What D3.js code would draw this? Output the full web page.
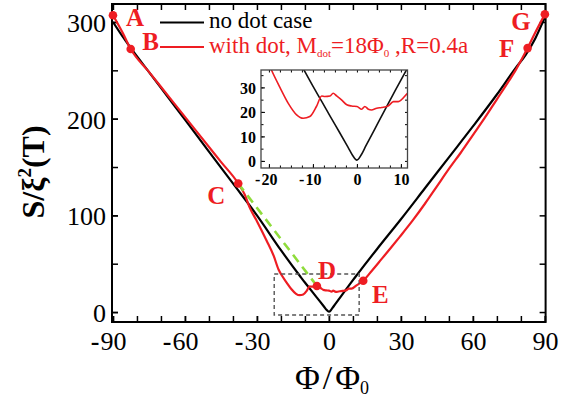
<!DOCTYPE html>
<html>
<head>
<meta charset="utf-8">
<style>
html, body { margin: 0; padding: 0; background: #fff; }
</style>
</head>
<body>
<script src="https://cdn.jsdelivr.net/npm/d3@7/dist/d3.min.js"></script>
<script>
// ---- data ----
var xTicks = [-90, -60, -30, 0, 30, 60, 90]
var xMinor = d3.range(-90, 91, 10)
var yTicks = [0, 100, 200, 300]
var yMinor = [0, 50, 100, 150, 200, 250, 300]
var insetXTicks = [-20, -10, 0, 10]
var insetYTicks = [0, 10, 20, 30]

var blackX = [-90, -86, -82, -78, -70, -60, -50, -40, -30, -20, -12, -10, -8, -6, -4, -2, -1, 0, 1, 2, 4, 6, 8, 10, 12, 20, 30, 40, 50, 60, 70, 78, 82, 86, 90]
var blackY = [300, 285, 271, 258, 232, 199, 166, 133, 100, 64, 37, 30.5, 24.3, 18, 11.8, 5.5, 2.3, 0.3, 2.5, 6, 12.8, 19.6, 26.3, 33, 39.5, 65, 96, 128, 160, 192, 225, 253, 266, 283, 305]

var redX = [-90, -86, -82.6, -75, -65, -55, -45, -37.8, -35, -33, -30, -26, -23, -21, -19.4, -17.5, -15.6, -13.7, -12.2, -10.7, -9.2, -8, -7.3, -6.1, -5.4, -4.6, -3.5, -2.3, -1.2, 0, 1.1, 1.8, 2.6, 3.3, 4.5, 5.6, 7.1, 8.3, 9.4, 11.5, 14.3, 18, 22, 26, 29.6, 35, 40, 45, 50, 55, 60, 65, 70, 75, 78, 82.8, 86, 90]
var redY = [307, 289, 272, 248.4, 217.4, 186.3, 155.3, 133, 121, 108, 94, 74, 58, 44, 37, 30, 23.5, 18.8, 17.4, 18.1, 22.2, 26.5, 26.3, 26.5, 27.6, 26.5, 24.9, 22.9, 22.4, 22.2, 21.1, 22.2, 21.1, 20.8, 21.5, 21.8, 22.4, 24.2, 24.2, 27.6, 32.4, 43, 55, 67, 78, 95, 112, 130, 148, 165, 183, 201, 220, 239, 251, 273, 289, 308]

var markNames = ['A', 'B', 'C', 'D', 'E', 'F', 'G']
var markX = [-90, -82.6, -37.8, -5, 14.3, 82.8, 90]
var markY = [307, 272, 133, 27, 32.4, 273, 308]

var zoomBox = [[-22.8, 12.6], [-3.1, 39.3]]
var seriesNames = ['no dot case', 'with dot, M']

// ---- layout ----
var W = 574, H = 398
var red = '#ee1d23'
var svg = d3.select('body').append('svg').attr('width', W).attr('height', H)
    .style('display', 'block')
    .attr('font-family', '"Liberation Serif", "DejaVu Serif", serif')

var x = d3.scaleLinear().domain([-90.4, 90.3]).range([112, 545.6])
var y = d3.scaleLinear().domain([-10.3, 318.6]).range([322, 4])
var xi = d3.scaleLinear().domain([-21.8, 11.5]).range([261, 407.5])
var yi = d3.scaleLinear().domain([-2.9, 37.1]).range([168, 70])

var black = d3.zip(blackX, blackY)
var redPts = d3.zip(redX, redY)

function tidy(g, size, weight, sw) {
    g.attr('font-family', null).attr('font-size', null)
    g.select('.domain').remove()
    g.selectAll('line').attr('stroke', '#000').attr('stroke-width', sw)
    g.selectAll('text').attr('font-size', size).attr('font-weight', weight).attr('fill', '#000')
    // minus sign hangs left of centred digits
    g.selectAll('.tick').each(function (d) {
        var t = d3.select(this).select('text')
        if (d >= 0 || !t.text()) return
        var w = t.node().getComputedTextLength()
        d3.select(this).append('text')
            .attr('x', -w / 2 - 1).attr('y', t.attr('y')).attr('dy', t.attr('dy'))
            .attr('text-anchor', 'end').attr('font-size', size).attr('font-weight', 'bold')
            .attr('fill', '#000').text('-')
    })
    return g
}
function ticksOnly(g, sw) {
    g.attr('font-family', null).attr('font-size', null)
    g.select('.domain').remove()
    g.selectAll('text').remove()
    g.selectAll('line').attr('stroke', '#000').attr('stroke-width', sw)
}
var fmt = function (d) { return Math.abs(d) }

// main axes
svg.append('g').attr('transform', 'translate(0,322)')
    .call(d3.axisBottom(x).tickValues(xTicks).tickSizeInner(-6).tickSizeOuter(0).tickPadding(10).tickFormat(fmt))
    .call(tidy, 26, 'normal', 1.5)
svg.append('g').attr('transform', 'translate(0,322)')
    .call(d3.axisBottom(x).tickValues(xMinor).tickSizeInner(-6).tickSizeOuter(0))
    .call(ticksOnly, 1.5)
svg.append('g').attr('transform', 'translate(0,4)')
    .call(d3.axisTop(x).tickValues(xMinor).tickSizeInner(-6).tickSizeOuter(0))
    .call(ticksOnly, 1.5)
svg.append('g').attr('transform', 'translate(112,0)')
    .call(d3.axisLeft(y).tickValues(yTicks).tickSizeInner(-6).tickSizeOuter(0).tickPadding(6))
    .call(tidy, 26, 'normal', 1.5)
    .selectAll('text').attr('dy', '0.36em')
svg.append('g').attr('transform', 'translate(112,0)')
    .call(d3.axisLeft(y).tickValues(yMinor).tickSizeInner(-6).tickSizeOuter(0))
    .call(ticksOnly, 1.5)
svg.append('g').attr('transform', 'translate(545.6,0)')
    .call(d3.axisRight(y).tickValues(yMinor).tickSizeInner(-6).tickSizeOuter(0))
    .call(ticksOnly, 1.5)

svg.append('rect').attr('x', 112).attr('y', 4).attr('width', 433.6).attr('height', 318)
    .attr('fill', 'none').attr('stroke', '#000').attr('stroke-width', 2)

// axis titles
var xt = svg.append('text').attr('x', 332).attr('y', 389).attr('text-anchor', 'middle').attr('font-size', 34)
xt.append('tspan').text('Φ')
xt.append('tspan').attr('dx', 3).text('/')
xt.append('tspan').attr('dx', 3).text('Φ')
xt.append('tspan').attr('font-size', 18).attr('dy', 5).text('0')

var yt = svg.append('text').attr('transform', 'translate(43.5,172) rotate(-90)')
    .attr('text-anchor', 'middle').attr('font-size', 32).attr('font-weight', 'bold')
yt.append('tspan').text('S/ξ')
yt.append('tspan').attr('font-size', 19).attr('dy', -13).text('2')
yt.append('tspan').attr('dy', 13).text('(T)')

// main curves
var line = d3.line().x(function (d) { return x(d[0]) }).y(function (d) { return y(d[1]) }).curve(d3.curveMonotoneX)
svg.append('path').datum(black).attr('d', line).attr('fill', 'none').attr('stroke', '#000').attr('stroke-width', 2.2)
svg.append('path').datum(redPts).attr('d', line).attr('fill', 'none').attr('stroke', red).attr('stroke-width', 2.2)

// zoom box
svg.append('rect')
    .attr('x', x(zoomBox[0][0])).attr('y', y(zoomBox[1][1]))
    .attr('width', x(zoomBox[0][1]) - x(zoomBox[0][0])).attr('height', y(zoomBox[1][0]) - y(zoomBox[1][1]))
    .attr('fill', 'none').attr('stroke', '#555').attr('stroke-width', 1.4).attr('stroke-dasharray', '4,3')

// green guide from C to D
svg.append('line')
    .attr('x1', x(markX[2])).attr('y1', y(markY[2])).attr('x2', x(markX[3])).attr('y2', y(markY[3]))
    .attr('stroke', '#8fdc3c').attr('stroke-width', 2.6).attr('stroke-dasharray', '9,6')

// marked points
var labelOff = { A: [22, 10.5], B: [20, 1], C: [-22, 20.5], D: [10, -7], E: [17, 22.5], F: [-21, 8.5], G: [-24, 15.5] }
markNames.forEach(function (n, i) {
    var px = x(markX[i]), py = y(markY[i])
    svg.append('circle').attr('cx', px).attr('cy', py).attr('r', 4.3).attr('fill', red)
    svg.append('text').attr('x', px + labelOff[n][0]).attr('y', py + labelOff[n][1])
        .attr('text-anchor', 'middle').attr('font-size', 25).attr('font-weight', 'bold')
        .attr('fill', red).text(n)
})

// legend
svg.append('line').attr('x1', 160).attr('x2', 204).attr('y1', 22.5).attr('y2', 22.5).attr('stroke', '#000').attr('stroke-width', 2)
svg.append('text').attr('x', 209).attr('y', 28).attr('font-size', 23).text(seriesNames[0])
svg.append('line').attr('x1', 160).attr('x2', 204).attr('y1', 47).attr('y2', 47).attr('stroke', red).attr('stroke-width', 2)
var lt = svg.append('text').attr('x', 209).attr('y', 53).attr('font-size', 23).attr('fill', red)
lt.append('tspan').text(seriesNames[1])
lt.append('tspan').attr('font-size', 11).attr('dy', 4).text('dot')
lt.append('tspan').attr('dy', -4).text('=18Φ')
lt.append('tspan').attr('font-size', 11).attr('dy', 4).text('0')
lt.append('tspan').attr('dy', -4).text(' ,R=0.4a')

// inset
var ins = svg.append('g')
ins.append('rect').attr('x', 261).attr('y', 70).attr('width', 146.5).attr('height', 98).attr('fill', '#fff')
svg.append('clipPath').attr('id', 'clipi').append('rect').attr('x', 261).attr('y', 70).attr('width', 146.5).attr('height', 98)

ins.append('g').attr('transform', 'translate(0,168)')
    .call(d3.axisBottom(xi).tickValues(insetXTicks).tickSizeInner(-4).tickSizeOuter(0).tickPadding(6).tickFormat(fmt))
    .call(tidy, 16, 'bold', 1)
ins.append('g').attr('transform', 'translate(0,168)')
    .call(d3.axisBottom(xi).tickValues(d3.range(-20, 11.5, 2.5)).tickSizeInner(-2.5).tickSizeOuter(0))
    .call(ticksOnly, 1)
ins.append('g').attr('transform', 'translate(0,70)')
    .call(d3.axisTop(xi).tickValues(d3.range(-20, 11.5, 2.5)).tickSizeInner(-2.5).tickSizeOuter(0))
    .call(ticksOnly, 1)
ins.append('g').attr('transform', 'translate(261,0)')
    .call(d3.axisLeft(yi).tickValues(insetYTicks).tickSizeInner(-4).tickSizeOuter(0).tickPadding(5))
    .call(tidy, 16, 'bold', 1)
    .selectAll('text').attr('dy', '0.36em')
ins.append('g').attr('transform', 'translate(261,0)')
    .call(d3.axisLeft(yi).tickValues(d3.range(0, 36, 5)).tickSizeInner(-2.5).tickSizeOuter(0))
    .call(ticksOnly, 1)
ins.append('g').attr('transform', 'translate(407.5,0)')
    .call(d3.axisRight(yi).tickValues(d3.range(0, 36, 5)).tickSizeInner(-2.5).tickSizeOuter(0))
    .call(ticksOnly, 1)

var lineI = d3.line().x(function (d) { return xi(d[0]) }).y(function (d) { return yi(d[1]) }).curve(d3.curveMonotoneX)
var cl = ins.append('g').attr('clip-path', 'url(#clipi)')
cl.append('path').datum(black).attr('d', lineI).attr('fill', 'none').attr('stroke', '#111').attr('stroke-width', 1.6)
cl.append('path').datum(redPts).attr('d', lineI).attr('fill', 'none').attr('stroke', red).attr('stroke-width', 1.6)
ins.append('rect').attr('x', 261).attr('y', 70).attr('width', 146.5).attr('height', 98)
    .attr('fill', 'none').attr('stroke', '#444').attr('stroke-width', 1.3)
</script>
</body>
</html>
